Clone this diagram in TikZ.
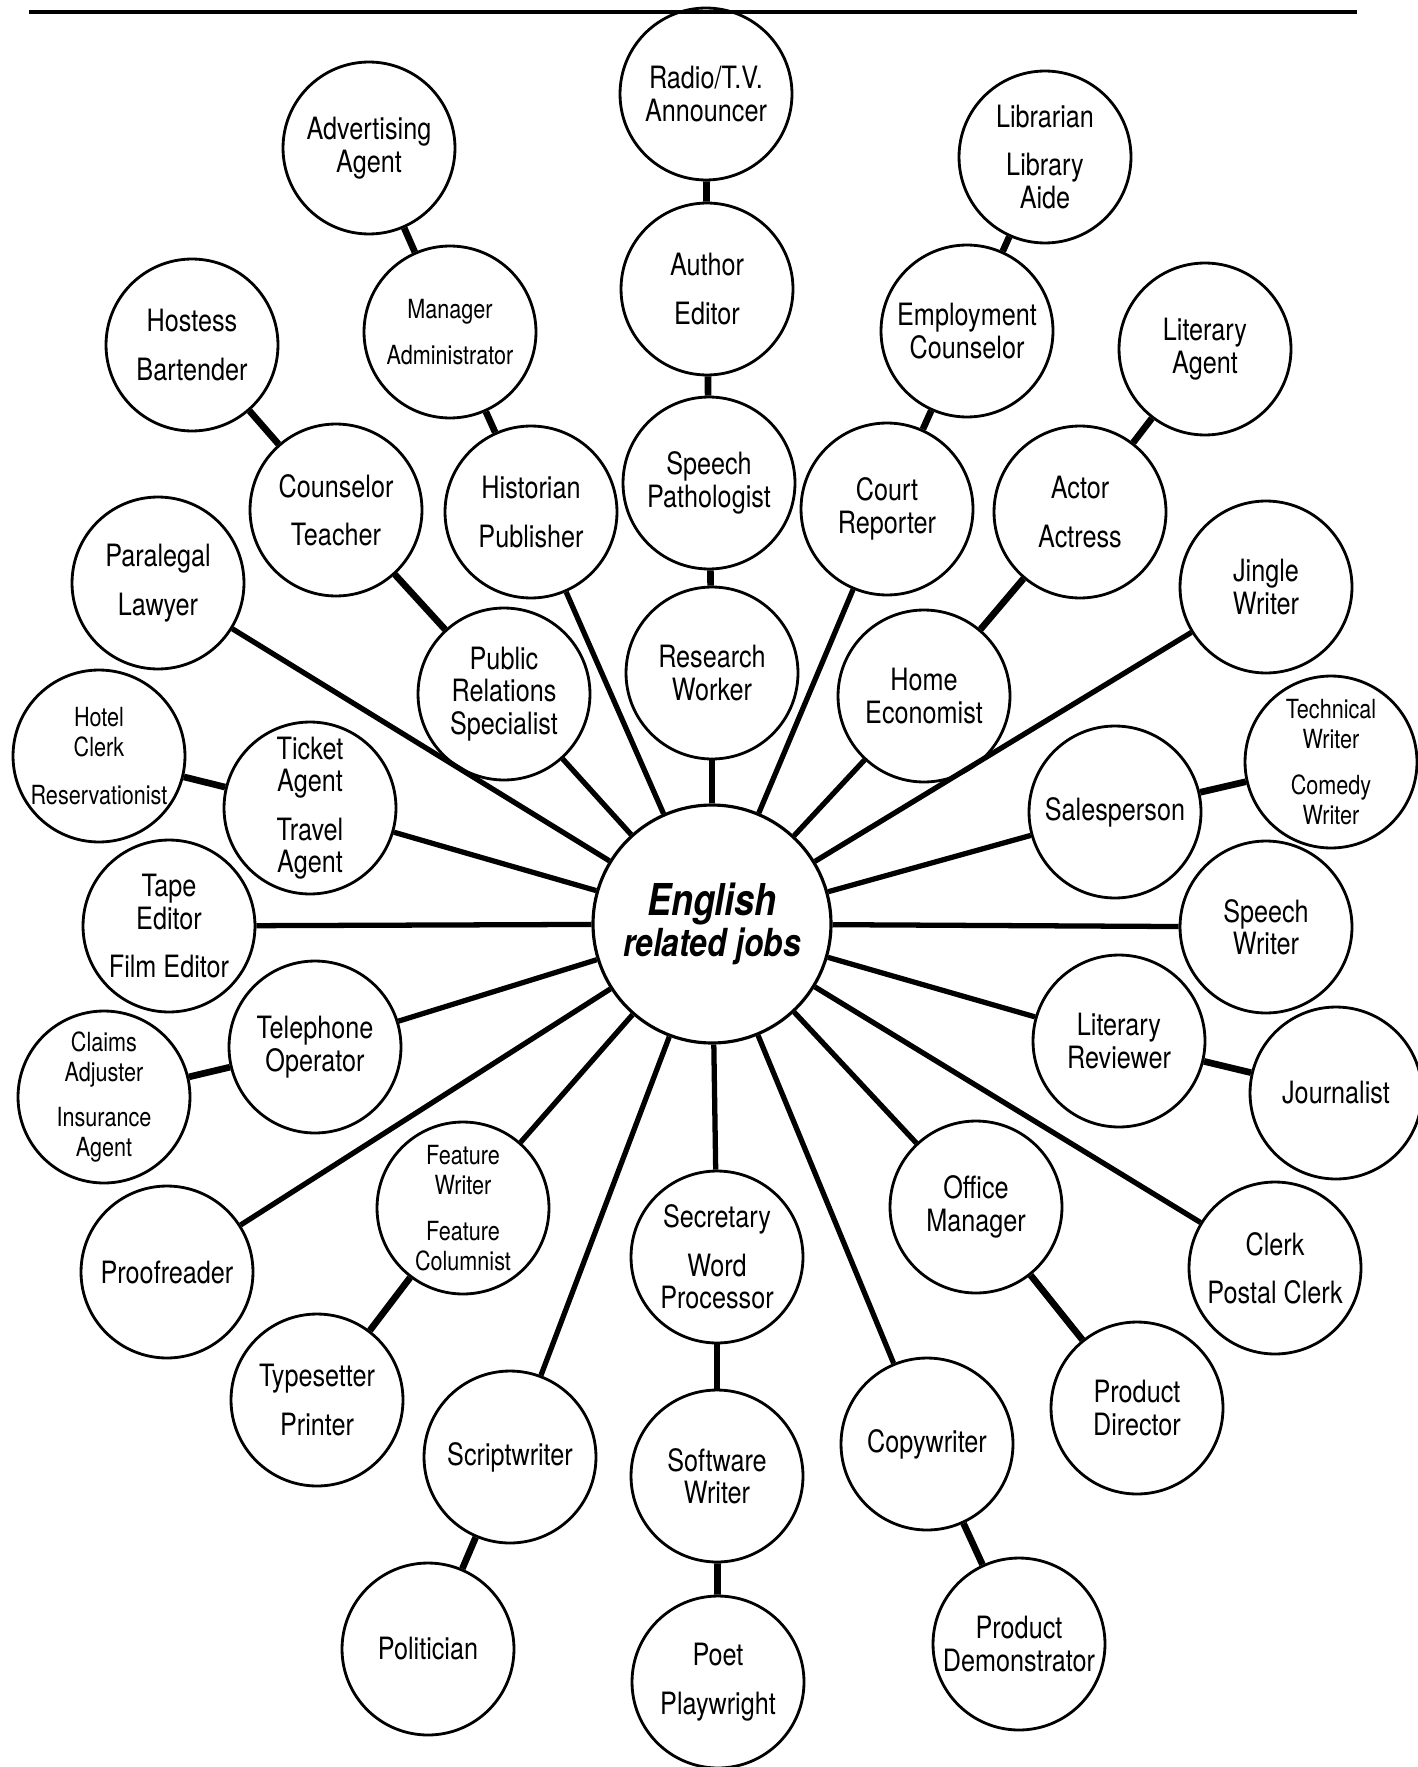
\documentclass[tikz,border=0pt]{standalone}
\usepackage{fontspec}
\setmainfont{TeX Gyre Heros}[FakeStretch=0.82]
\newcommand{\jobfont}{\fontsize{17.5}{18.5}\selectfont}
\newcommand{\minorfont}{\fontsize{15}{17}\selectfont}
\tikzset{
	job/.style={draw, circle, line width=1.6pt, minimum size=3.44cm, inner sep=0pt, align=center, font=\jobfont},
	minor/.style={job, font=\minorfont},
	hub/.style={draw, circle, line width=1.8pt, minimum size=4.76cm, inner sep=0pt, align=center, font=\fontsize{22}{23}\selectfont\bfseries\itshape},
	spoke/.style={line width=3pt},
	link/.style={line width=3.8pt}
}

\begin{document}
\begin{tikzpicture}[x=0.02cm, y=-0.02cm]
			%%%%% FRAME %%%%%
			\useasboundingbox (0,0) rectangle (1417,1767);
			\draw[line width=2.2pt] (29,12) -- (1357,12);
			
			%%%%% HUB %%%%%
			\node[hub] (hub) at (712,924) {{\fontsize{25}{23}\selectfont English}\\related jobs};
			
			%%%%% TOP CHAIN %%%%%
			\node[job] (research) at (712,673) {Research\\Worker};
			\node[job] (speech) at (709,483) {Speech\\Pathologist};
			\node[job] (author) at (707,289) {Author\\[9pt]Editor};
			\node[job] (radio) at (706,94) {Radio/T.V.\\Announcer};
			
			%%%%% UPPER LEFT %%%%%
			\node[job] (historian) at (531,512) {Historian\\[9pt]Publisher};
			\node[minor] (manager) at (450,332) {Manager\\[9pt]Administrator};
			\node[job] (advert) at (369,148) {Advertising\\Agent};
			\node[job] (pr) at (504,694) {Public\\Relations\\Specialist};
			\node[job] (counselor) at (336,510) {Counselor\\[9pt]Teacher};
			\node[job] (hostess) at (192,345) {Hostess\\[9pt]Bartender};
			\node[job] (paralegal) at (158,583) {Paralegal\\[9pt]Lawyer};
			
			%%%%% LEFT %%%%%
			\node[job] (ticket) at (310,808) {Ticket\\Agent\\[9pt]Travel\\Agent};
			\node[minor] (hotel) at (99,756) {Hotel\\Clerk\\[10pt]Reservationist};
			\node[job] (tape) at (169,926) {Tape\\Editor\\[9pt]Film Editor};
			\node[job] (telephone) at (315,1047) {Telephone\\Operator};
			\node[minor] (claims) at (104,1097) {Claims\\Adjuster\\[9pt]Insurance\\Agent};
			\node[job] (proof) at (167,1272) {Proofreader};
			
			%%%%% LOWER LEFT %%%%%
			\node[minor] (feature) at (463,1208) {Feature\\Writer\\[9pt]Feature\\Columnist};
			\node[job] (typesetter) at (317,1400) {Typesetter\\[9pt]Printer};
			\node[job] (script) at (510,1457) {Scriptwriter};
			\node[job] (politician) at (428,1649) {Politician};
			
			%%%%% BOTTOM CHAIN %%%%%
			\node[job] (secretary) at (717,1257) {Secretary\\[9pt]Word\\Processor};
			\node[job] (software) at (717,1476) {Software\\Writer};
			\node[job] (poet) at (718,1682) {Poet\\[9pt]Playwright};
			
			%%%%% LOWER RIGHT %%%%%
			\node[job] (copy) at (927,1444) {Copywriter};
			\node[job] (demo) at (1019,1644) {Product\\Demonstrator};
			\node[job] (office) at (976,1207) {Office\\Manager};
			\node[job] (director) at (1137,1408) {Product\\Director};
			\node[job] (clerk) at (1275,1268) {Clerk\\[9pt]Postal Clerk};
			
			%%%%% RIGHT %%%%%
			\node[job] (litrev) at (1119,1041) {Literary\\Reviewer};
			\node[job] (journalist) at (1336,1093) {Journalist};
			\node[job] (speechw) at (1266,927) {Speech\\Writer};
			\node[job] (sales) at (1115,812) {Salesperson};
			\node[minor] (tech) at (1331,762) {Technical\\Writer\\[9pt]Comedy\\Writer};
			\node[job] (jingle) at (1266,587) {Jingle\\Writer};
			
			%%%%% UPPER RIGHT %%%%%
			\node[job] (homeeco) at (924,696) {Home\\Economist};
			\node[job] (actor) at (1080,512) {Actor\\[9pt]Actress};
			\node[job] (litagent) at (1205,349) {Literary\\Agent};
			\node[job] (court) at (887,509) {Court\\Reporter};
			\node[job] (employ) at (967,331) {Employment\\Counselor};
			\node[job] (librarian) at (1045,157) {Librarian\\[9pt]Library\\Aide};
			
			%%%%% SPOKES %%%%%
			\draw[spoke] (hub) -- (research);
			\draw[spoke] (hub) -- (historian);
			\draw[spoke] (hub) -- (pr);
			\draw[spoke] (hub) -- (paralegal);
			\draw[spoke] (hub) -- (ticket);
			\draw[spoke] (hub) -- (tape);
			\draw[spoke] (hub) -- (telephone);
			\draw[spoke] (hub) -- (proof);
			\draw[spoke] (hub) -- (feature);
			\draw[spoke] (hub) -- (script);
			\draw[spoke] (hub) -- (secretary);
			\draw[spoke] (hub) -- (copy);
			\draw[spoke] (hub) -- (office);
			\draw[spoke] (hub) -- (clerk);
			\draw[spoke] (hub) -- (litrev);
			\draw[spoke] (hub) -- (speechw);
			\draw[spoke] (hub) -- (sales);
			\draw[spoke] (hub) -- (jingle);
			\draw[spoke] (hub) -- (homeeco);
			\draw[spoke] (hub) -- (court);
			
			%%%%% LINKS %%%%%
			\draw[link] (research) -- (speech);
			\draw[link] (speech) -- (author);
			\draw[link] (author) -- (radio);
			\draw[link] (historian) -- (manager);
			\draw[link] (manager) -- (advert);
			\draw[link] (pr) -- (counselor);
			\draw[link] (counselor) -- (hostess);
			\draw[link] (ticket) -- (hotel);
			\draw[link] (telephone) -- (claims);
			\draw[link] (feature) -- (typesetter);
			\draw[link] (script) -- (politician);
			\draw[link] (secretary) -- (software);
			\draw[link] (software) -- (poet);
			\draw[link] (copy) -- (demo);
			\draw[link] (office) -- (director);
			\draw[link] (litrev) -- (journalist);
			\draw[link] (sales) -- (tech);
			\draw[link] (homeeco) -- (actor);
			\draw[link] (actor) -- (litagent);
			\draw[link] (court) -- (employ);
			\draw[link] (employ) -- (librarian);
			
\end{tikzpicture}
\end{document}
